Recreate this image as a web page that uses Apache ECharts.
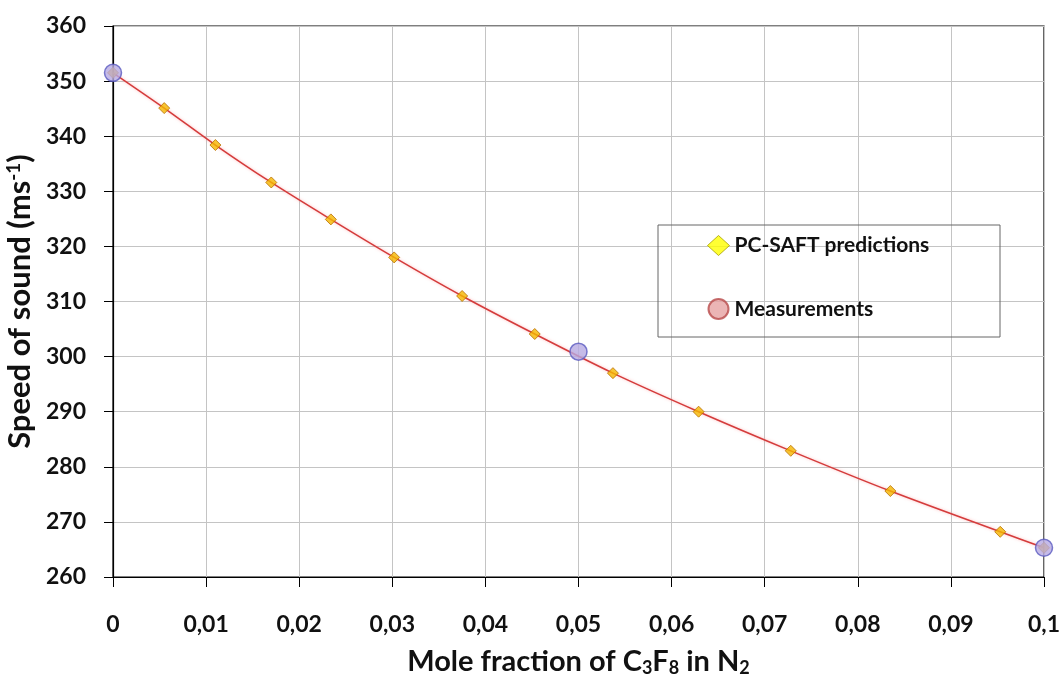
<!DOCTYPE html>
<html>
<head>
<meta charset="utf-8">
<title>Speed of sound</title>
<script src="https://cdn.jsdelivr.net/npm/echarts@6/dist/echarts.min.js"></script>
<style>
    html, body { margin: 0; padding: 0; background: #fff; }
    #chart { width: 1064px; height: 677px; }
</style>
</head>
<body>
<div id="chart"></div>
<script>
// PC-SAFT predictions (diamonds + curve)
const predX = [0, 0.0055, 0.011, 0.017, 0.0234, 0.0302, 0.0375, 0.0453, 0.0537, 0.0629, 0.0728, 0.0835, 0.0953, 0.1];
const predY = [351.5, 345.1, 338.4, 331.6, 324.9, 318.0, 311.0, 304.1, 297.0, 290.0, 282.9, 275.6, 268.2, 265.3];
// measurements (circles)
const measX = [0, 0.05, 0.1];
const measY = [351.5, 300.9, 265.3];
const seriesNames = ['PC-SAFT predictions', 'Measurements'];

(function () {
    let chart = echarts.init(document.querySelector('#chart'));

    const pred = predX.map((x, i) => [x, predY[i]]);
    const meas = measX.map((x, i) => [x, measY[i]]);
    const font = 'Lato, "Noto Sans", sans-serif';

    let option = {
        animation: false,
        textStyle: { fontFamily: font },
        grid: {
            left: 113,
            right: 20,
            top: 26,
            bottom: 100,
            outerBoundsMode: 'none', // keep the plot box where it is
            containLabel: false,
            show: true,
            borderColor: '#000',
            borderWidth: 1.2
        },
        graphic: [{
            type: 'rect',
            shape: { x: 658, y: 225, width: 342, height: 112 },
            style: { fill: 'transparent', stroke: '#666', lineWidth: 1 },
            z: 10
        }],
        legend: {
            data: [
                { name: seriesNames[0], icon: 'diamond', itemStyle: { color: '#ffff00', borderColor: '#a8a000', borderWidth: 1 } },
                { name: seriesNames[1], icon: 'circle', itemStyle: { color: '#e6a3a3', borderColor: '#b84a4a', borderWidth: 2 } }
            ],
            orient: 'vertical',
            left: 707,
            top: 235,
            padding: 0,
            itemWidth: 22,
            itemHeight: 20,
            itemGap: 42,
            textStyle: { fontFamily: font, fontSize: 21, fontWeight: 'bold', color: '#111' }
        },
        xAxis: {
            type: 'value',
            min: 0,
            max: 0.1,
            interval: 0.01,
            name: 'Mole fraction of C{sub|3}F{sub|8} in N{sub|2}',
            nameLocation: 'middle',
            nameGap: 64,
            nameTextStyle: {
                fontFamily: font, fontSize: 29, fontWeight: 'bold', color: '#111', lineHeight: 30,
                rich: {
                    sub: { fontFamily: font, fontSize: 18, fontWeight: 'bold', color: '#111', lineHeight: 18, verticalAlign: 'bottom', padding: [18, 0, 0, 0] }
                }
            },
            axisLine: { onZero: false, lineStyle: { color: '#000', width: 1.2 } },
            axisTick: { length: 10, lineStyle: { color: '#000' } },
            axisLabel: {
                margin: 36,
                fontFamily: font, fontSize: 23, fontWeight: 'bold', color: '#111',
                formatter: v => String(parseFloat(v.toFixed(3))).replace('.', ',')
            },
            splitLine: { show: true, lineStyle: { color: '#c4c4c4', width: 1 } }
        },
        yAxis: {
            type: 'value',
            min: 260,
            max: 360,
            interval: 10,
            name: 'Speed of sound (ms{sup|-1})',
            nameLocation: 'middle',
            nameRotate: 90,
            nameGap: 68,
            nameTextStyle: {
                fontFamily: font, fontSize: 31, fontWeight: 'bold', color: '#111', lineHeight: 31,
                rich: {
                    sup: { fontFamily: font, fontSize: 19, fontWeight: 'bold', color: '#111', lineHeight: 19, verticalAlign: 'top', padding: [0, 0, 12, 0] }
                }
            },
            axisLine: { show: true, lineStyle: { color: '#000', width: 1.2 } },
            axisTick: { show: true, length: 9, lineStyle: { color: '#000' } },
            axisLabel: { margin: 27, fontFamily: font, fontSize: 23, fontWeight: 'bold', color: '#111' },
            splitLine: { lineStyle: { color: '#c4c4c4', width: 1 } }
        },
        series: [{
            name: 'curve',
            type: 'line',
            data: pred,
            smooth: 0.3,
            showSymbol: false,
            lineStyle: { color: '#d43c3c', width: 1.5, shadowColor: 'rgba(255,120,120,0.5)', shadowBlur: 3 },
            z: 2
        }, {
            name: seriesNames[0],
            type: 'scatter',
            data: pred,
            symbol: 'diamond',
            symbolSize: [11, 11],
            itemStyle: { color: '#f5b800', borderColor: '#b86e00', borderWidth: 1 },
            z: 3
        }, {
            name: seriesNames[1],
            type: 'scatter',
            data: meas,
            symbol: 'circle',
            symbolSize: 17,
            itemStyle: { color: '#b6aae2', borderColor: '#5a5ac0', borderWidth: 1.5 },
            z: 4
        }]
    };
    chart.setOption(option);
})();
</script>
</body>
</html>
